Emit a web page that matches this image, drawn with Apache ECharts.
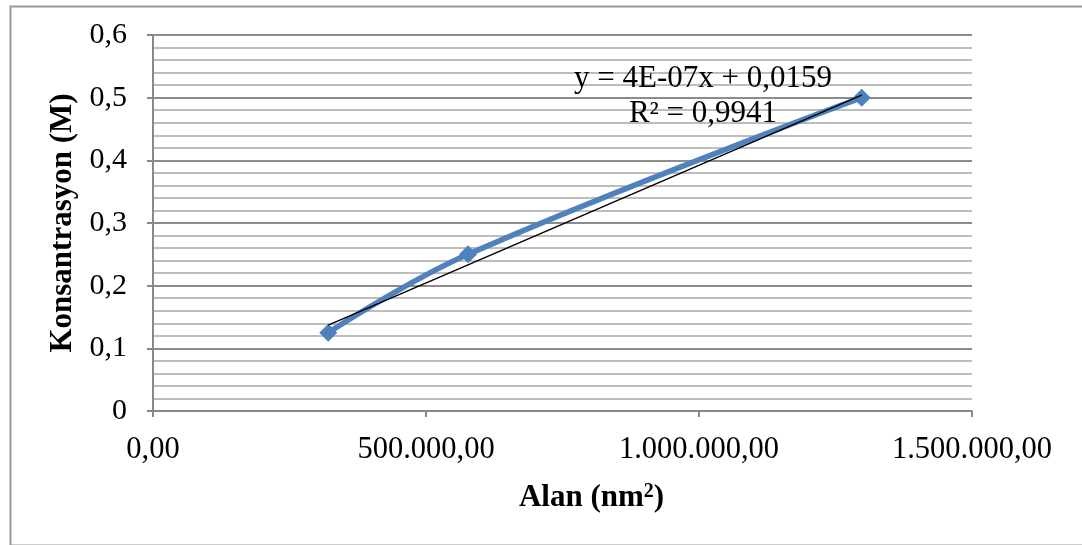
<!DOCTYPE html>
<html>
<head>
<meta charset="utf-8">
<script src="https://cdn.jsdelivr.net/npm/echarts@6/dist/echarts.min.js"></script>
<style>
html,body{margin:0;padding:0;background:#fff;}
#chart{width:1082px;height:545px;}
</style>
</head>
<body>
<div id="chart"></div>
<script>
// olculen noktalar
var alanX = [321000, 577000, 1298000];
var konsY = [0.125, 0.25, 0.5];
// dogrusal egilim cizgisi uclari
var trendX = [321000, 1298000];
var trendY = [0.137, 0.504];
var xTicks = [0, 500000, 1000000, 1500000];
var denklem = 'y = 4E-07x + 0,0159';
var r2 = 'R² = 0,9941';

var font = '"Liberation Serif", "Times New Roman", serif';

function fmtX(v){
    var s = Math.round(v).toString().replace(/\B(?=(\d{3})+(?!\d))/g, '.');
    return s + ',00';
}

var myChart = echarts.init(document.getElementById('chart'));
var option = {
    animation : false,
    grid : {
        left : 153,
        right : 110,
        top : 35,
        bottom : 134
    },
    xAxis : {
        type : 'value',
        min : xTicks[0],
        max : xTicks[xTicks.length-1],
        interval : 500000,
        name : 'Alan (nm{sup|2})',
        nameLocation : 'middle',
        nameGap : 71,
        nameTextStyle : {
            fontFamily : font,
            fontSize : 31,
            fontWeight : 'bold',
            color : '#000',
            padding : [0,0,0,58],
            rich : {
                sup : {
                    fontFamily : font,
                    fontSize : 20,
                    fontWeight : 'bold',
                    verticalAlign : 'top',
                    padding : [0,0,10,0]
                }
            }
        },
        axisLine : { show : true, lineStyle : { color : '#888', width : 2 } },
        axisTick : { show : true, length : 6, inside : false, lineStyle : { color : '#888', width : 2 } },
        axisLabel : {
            formatter : fmtX,
            fontFamily : font,
            fontSize : 30.5,
            color : '#000',
            margin : 23
        },
        splitLine : { show : false }
    },
    yAxis : {
        type : 'value',
        min : 0,
        max : 0.6,
        interval : 0.1,
        name : 'Konsantrasyon (M)',
        nameLocation : 'middle',
        nameGap : 75,
        nameTextStyle : {
            fontFamily : font,
            fontSize : 31,
            fontWeight : 'bold',
            color : '#000'
        },
        axisLine : { show : true, lineStyle : { color : '#888', width : 2 } },
        axisTick : { show : true, length : 6, lineStyle : { color : '#888', width : 2 } },
        axisLabel : {
            formatter : function(v){ return String(+v.toFixed(1)).replace('.', ','); },
            fontFamily : font,
            fontSize : 30,
            color : '#000',
            margin : 26
        },
        splitLine : { show : true, lineStyle : { color : '#8c8c8c', width : 2 } },
        minorTick : { show : false, splitNumber : 5 },
        minorSplitLine : { show : true, lineStyle : { color : '#bdbdbd', width : 2 } }
    },
    series : [
        {
            type : 'line',
            data : alanX.map(function(x,i){ return [x, konsY[i]]; }),
            smooth : 0.4,
            symbol : 'diamond',
            symbolSize : 18,
            lineStyle : { color : '#4F81BD', width : 5.5 },
            itemStyle : { color : '#4F81BD' },
            z : 2
        },
        {
            type : 'line',
            data : trendX.map(function(x,i){ return [x, trendY[i]]; }),
            symbol : 'none',
            lineStyle : { color : '#000', width : 1.5 },
            z : 3
        }
    ],
    graphic : [
        {
            type : 'rect',
            left : 8, top : 4,
            shape : { width : 1090, height : 539 },
            style : { fill : 'none', stroke : '#999', lineWidth : 2 },
            z : 100
        },
        {
            type : 'text',
            x : 703, y : 79,
            style : { text : denklem, font : '31px ' + font, fill : '#000', align : 'center', verticalAlign : 'middle' },
            z : 100
        },
        {
            type : 'text',
            x : 703, y : 114,
            style : { text : r2, font : '31px ' + font, fill : '#000', align : 'center', verticalAlign : 'middle' },
            z : 100
        }
    ]
};
myChart.setOption(option);
</script>
</body>
</html>
